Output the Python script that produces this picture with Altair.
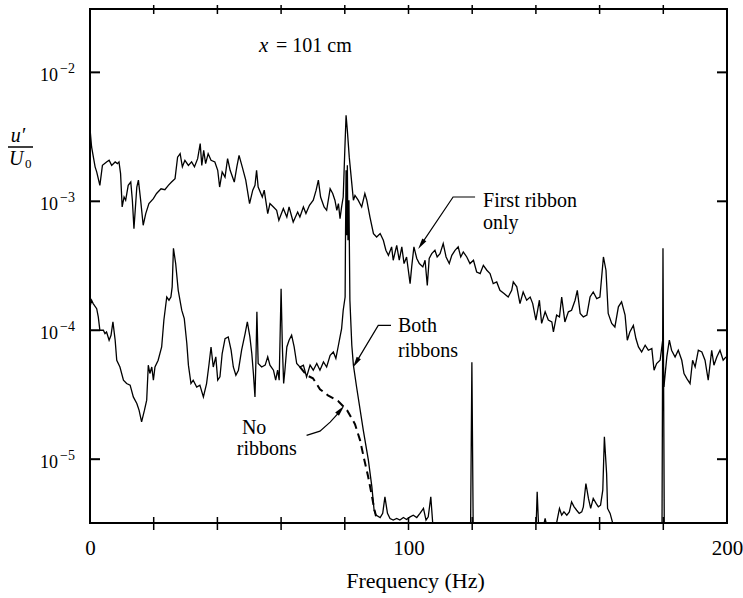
import altair as alt
import pandas as pd

# Velocity spectra u'/U0 at x = 101 cm, frequency in Hz
FLOOR = 3.2e-6  # bottom of the amplitude axis; readings below it lie on the axis

first_freq = [
    0.0, 0.5, 1.6, 2.1, 3.1, 3.9, 5.2, 6.0, 6.8, 7.9,
    8.6, 9.1, 9.6, 10.1, 10.7, 11.2, 12.0, 12.8, 13.3, 13.8,
    14.7, 15.2, 15.9, 16.7, 17.5, 18.5, 19.9, 20.9, 22.3, 23.5,
    24.6, 25.6, 26.7, 27.5, 28.3, 29.0, 29.8, 30.9, 31.9, 32.8,
    33.8, 34.6, 35.1, 35.7, 36.3, 37.1, 38.0, 39.2, 40.1, 40.7,
    41.5, 42.4, 43.2, 44.0, 45.3, 46.1, 46.8, 47.8, 48.9, 50.1,
    51.1, 51.8, 52.3, 52.8, 54.1, 54.7, 55.8, 56.5, 57.6, 58.6,
    59.3, 60.7, 61.8, 62.5, 63.8, 65.2, 65.9, 67.0, 67.8, 68.9,
    70.1, 71.0, 71.7, 72.4, 73.5, 74.3, 75.4, 76.2, 76.9, 77.5,
    78.0, 78.5, 79.0, 79.5, 80.0, 80.4, 80.8, 81.4, 82.2, 82.7,
    83.2, 84.2, 85.3, 86.3, 86.9, 87.9, 89.0, 90.0, 91.1, 92.1,
    92.9, 93.7, 94.7, 95.2, 96.3, 97.1, 97.9, 98.6, 99.4, 100.5,
    101.0, 101.7, 102.6, 103.4, 104.5, 105.2, 105.9, 106.5, 107.3, 108.3,
    109.0, 109.9, 110.9, 111.8, 112.8, 113.6, 114.6, 115.6, 116.4, 117.2,
    118.3, 119.3, 120.4, 121.4, 122.5, 123.5, 124.6, 125.6, 126.6, 127.7,
    128.7, 130.0, 131.3, 132.4, 132.9, 134.0, 135.0, 136.0, 137.1, 138.2,
    139.0, 140.0, 141.1, 141.8, 142.9, 143.9, 145.0, 145.5, 146.5, 147.4,
    148.1, 149.1, 150.2, 151.2, 152.3, 153.0, 153.9, 154.9, 156.0, 157.0,
    158.0, 159.1, 160.1, 161.2, 162.0, 162.7, 163.8, 164.8, 165.9, 166.9,
    168.0, 168.7, 169.5, 170.6, 171.4, 172.2, 173.2, 174.3, 175.3, 176.4,
    177.1, 177.9, 179.0, 179.8, 180.2, 181.1, 181.9, 182.6, 183.7, 184.7,
    185.8, 186.5, 187.4, 188.4, 189.2, 190.0, 191.0, 192.1, 193.1, 194.1,
    195.2, 195.9, 196.8, 197.8, 198.8, 199.7,
]
first_amp = [
    3.66e-3, 2.64e-3, 1.85e-3, 1.69e-3, 1.33e-3, 1.90e-3, 2.02e-3, 2.08e-3, 1.90e-3, 2.02e-3,
    1.96e-3, 2.02e-3, 1.64e-3, 9.04e-4, 1.08e-3, 1.02e-3, 1.33e-3, 1.41e-3, 1.02e-3, 6.14e-4,
    1.29e-3, 1.46e-3, 1.02e-3, 6.52e-4, 8.03e-4, 9.60e-4, 1.05e-3, 1.15e-3, 1.25e-3, 1.23e-3,
    1.33e-3, 1.41e-3, 1.50e-3, 2.20e-3, 2.34e-3, 1.85e-3, 2.08e-3, 1.90e-3, 2.02e-3, 1.85e-3,
    2.14e-3, 2.80e-3, 1.90e-3, 2.48e-3, 1.96e-3, 2.34e-3, 2.08e-3, 2.02e-3, 1.74e-3, 1.29e-3,
    1.69e-3, 1.54e-3, 2.14e-3, 1.74e-3, 1.41e-3, 1.85e-3, 2.27e-3, 1.85e-3, 1.46e-3, 9.60e-4,
    1.22e-3, 1.33e-3, 1.74e-3, 1.29e-3, 1.08e-3, 1.22e-3, 8.03e-4, 9.60e-4, 9.04e-4, 8.52e-4,
    7.12e-4, 8.78e-4, 7.55e-4, 9.04e-4, 6.91e-4, 8.26e-4, 7.55e-4, 9.04e-4, 8.03e-4, 9.31e-4,
    1.02e-3, 1.22e-3, 1.46e-3, 1.08e-3, 9.04e-4, 8.52e-4, 1.25e-3, 1.15e-3, 1.02e-3, 8.52e-4,
    9.60e-4, 7.34e-4, 9.04e-4, 1.08e-3, 2.48e-3, 4.64e-3, 3.55e-3, 2.20e-3, 1.37e-3, 1.02e-3,
    1.11e-3, 1.02e-3, 9.04e-4, 1.15e-3, 1.02e-3, 7.55e-4, 5.62e-4, 5.29e-4, 5.62e-4, 4.98e-4,
    4.17e-4, 3.81e-4, 4.43e-4, 3.49e-4, 4.56e-4, 3.49e-4, 4.43e-4, 3.29e-4, 3.70e-4, 2.30e-4,
    3.10e-4, 4.43e-4, 3.60e-4, 3.29e-4, 3.10e-4, 3.49e-4, 2.23e-4, 3.60e-4, 3.93e-4, 4.17e-4,
    3.70e-4, 3.93e-4, 4.70e-4, 3.70e-4, 3.29e-4, 3.81e-4, 4.17e-4, 4.43e-4, 3.70e-4, 4.05e-4,
    3.70e-4, 3.29e-4, 3.49e-4, 2.83e-4, 2.75e-4, 3.19e-4, 2.92e-4, 2.75e-4, 2.30e-4, 2.37e-4,
    2.04e-4, 1.93e-4, 1.81e-4, 2.04e-4, 2.37e-4, 2.17e-4, 1.61e-4, 1.98e-4, 1.71e-4, 1.81e-4,
    1.61e-4, 1.20e-4, 1.71e-4, 1.13e-4, 1.39e-4, 1.20e-4, 1.16e-4, 9.70e-5, 1.31e-4, 1.27e-4,
    1.81e-4, 1.16e-4, 1.39e-4, 1.43e-4, 1.71e-4, 2.04e-4, 1.35e-4, 1.27e-4, 1.31e-4, 1.81e-4,
    1.98e-4, 1.76e-4, 1.81e-4, 3.70e-4, 2.92e-4, 1.35e-4, 1.13e-4, 1.06e-4, 1.52e-4, 1.66e-4,
    1.31e-4, 8.37e-5, 9.70e-5, 1.09e-4, 8.62e-5, 7.42e-5, 6.79e-5, 7.65e-5, 7.00e-5, 7.21e-5,
    4.90e-5, 5.52e-5, 5.85e-5, 8.37e-5, 3.63e-5, 6.21e-5, 8.37e-5, 7.00e-5, 6.21e-5, 7.00e-5,
    5.85e-5, 4.62e-5, 4.22e-5, 3.86e-5, 5.85e-5, 5.19e-5, 7.00e-5, 6.79e-5, 5.85e-5, 4.10e-5,
    7.00e-5, 5.36e-5, 6.21e-5, 7.00e-5, 5.85e-5, 6.21e-5,
]

both_freq = [
    0.0, 0.5, 1.0, 2.1, 2.6, 3.1, 4.2, 4.7, 5.2, 6.0,
    6.6, 7.2, 7.9, 8.4, 9.4, 10.5, 11.5, 12.6, 13.6, 14.7,
    15.4, 16.2, 17.1, 17.8, 18.3, 18.8, 19.4, 19.9, 20.4, 21.4,
    22.5, 23.2, 24.1, 24.8, 25.4, 25.8, 26.2, 26.9, 27.7, 28.8,
    29.6, 30.4, 30.9, 31.7, 32.4, 33.5, 34.5, 35.6, 36.6, 37.4,
    38.0, 38.7, 39.5, 40.1, 40.8, 41.5, 42.4, 43.4, 44.3, 45.0,
    45.8, 46.6, 47.6, 48.7, 49.4, 50.2, 50.8, 51.3, 51.8, 52.1,
    52.4, 52.8, 53.9, 55.0, 55.8, 56.5, 57.6, 58.3, 58.9, 59.4,
    60.0, 60.4, 60.8, 61.2, 61.8, 62.5, 63.3, 64.1, 64.9, 65.9,
    67.0, 68.0, 69.1, 70.1, 71.2, 72.2, 73.3, 74.3, 75.4, 76.4,
    77.2, 78.0, 78.5, 79.0, 79.5, 80.1, 80.2, 80.4, 80.6, 80.8,
    81.0, 81.3, 81.6, 82.2, 82.7, 83.7, 85.8, 87.4, 88.5, 89.2,
    89.8, 91.1, 91.9, 92.6, 93.4, 94.2, 95.2, 96.3, 97.3, 98.4,
    99.4, 100.5, 101.5, 102.6, 103.6, 104.7, 105.5, 106.2, 107.0, 107.6,
    119.5, 119.9, 120.3, 140.1, 140.4, 140.8, 142.6, 142.9, 143.2, 146.5,
    147.4, 148.1, 148.8, 149.7, 150.5, 151.2, 152.0, 152.8, 153.6, 154.4,
    154.9, 155.7, 156.5, 157.2, 158.0, 158.9, 159.6, 160.3, 161.0, 161.5,
    162.2, 162.5, 163.3, 164.1, 179.6, 179.9, 180.3, 200.0,
]
both_amp = [
    1.52e-4, 1.71e-4, 1.61e-4, 1.47e-4, 1.27e-4, 1.00e-4, 1.00e-4, 9.43e-5, 9.70e-5, 8.37e-5,
    9.15e-5, 1.16e-4, 8.37e-5, 5.85e-5, 5.19e-5, 4.10e-5, 3.86e-5, 3.75e-5, 3.04e-5, 2.70e-5,
    2.40e-5, 1.95e-5, 2.40e-5, 2.87e-5, 5.36e-5, 4.62e-5, 5.19e-5, 4.10e-5, 5.19e-5, 5.85e-5,
    7.42e-5, 1.20e-4, 1.81e-4, 1.71e-4, 1.81e-4, 2.17e-4, 4.32e-4, 3.29e-4, 2.04e-4, 1.43e-4,
    1.23e-4, 7.89e-5, 5.36e-5, 3.86e-5, 4.10e-5, 3.63e-5, 3.75e-5, 3.04e-5, 3.86e-5, 5.52e-5,
    7.42e-5, 5.19e-5, 6.21e-5, 4.10e-5, 4.35e-5, 6.60e-5, 8.62e-5, 8.87e-5, 7.00e-5, 5.19e-5,
    4.48e-5, 4.90e-5, 7.00e-5, 9.43e-5, 1.16e-4, 8.87e-5, 6.60e-5, 4.62e-5, 3.04e-5, 5.85e-5,
    1.39e-4, 5.52e-5, 5.19e-5, 5.36e-5, 6.21e-5, 5.36e-5, 4.90e-5, 4.10e-5, 4.90e-5, 4.10e-5,
    2.10e-4, 7.42e-5, 3.86e-5, 4.90e-5, 7.42e-5, 8.37e-5, 9.15e-5, 7.42e-5, 5.52e-5, 5.19e-5,
    5.36e-5, 4.35e-5, 5.36e-5, 4.90e-5, 5.52e-5, 4.90e-5, 5.68e-5, 5.19e-5, 6.40e-5, 6.79e-5,
    6.04e-5, 7.65e-5, 8.87e-5, 1.03e-4, 1.43e-4, 1.81e-4, 4.56e-4, 1.74e-3, 5.45e-4, 1.90e-3,
    4.98e-4, 1.02e-3, 1.71e-4, 7.65e-5, 5.36e-5, 3.63e-5, 1.68e-5, 9.82e-6, 6.10e-6, 4.02e-6,
    3.68e-6, 3.53e-6, 3.80e-6, 5.10e-6, 3.80e-6, 3.47e-6, 3.37e-6, 3.47e-6, 3.37e-6, 3.53e-6,
    3.41e-6, 3.57e-6, 3.68e-6, 3.53e-6, 3.80e-6, 4.15e-6, 3.37e-6, 3.57e-6, 5.10e-6, FLOOR,
    FLOOR, 5.65e-5, FLOOR, FLOOR, 5.58e-6, FLOOR, FLOOR, 3.47e-6, FLOOR, FLOOR,
    4.15e-6, 3.68e-6, 3.90e-6, 3.68e-6, 3.90e-6, 4.67e-6, 4.27e-6, 4.02e-6, 3.80e-6, 3.90e-6,
    4.27e-6, 6.48e-6, 4.96e-6, 4.15e-6, 4.96e-6, 4.54e-6, 4.27e-6, 4.40e-6, 5.75e-6, 1.49e-5,
    7.74e-6, 4.15e-6, 3.80e-6, FLOOR, FLOOR, 4.32e-4, FLOOR, FLOOR,
]

none_freq = [65.9, 68.0, 70.0, 72.2, 74.7, 77.9, 80.7, 83.2, 84.8, 86.0, 87.3, 88.4, 89.2, 89.8]
none_amp = [5.19e-5, 4.48e-5, 4.24e-5, 3.49e-5, 3.13e-5, 2.82e-5, 2.40e-5, 1.87e-5,
            1.40e-5, 1.02e-5, 7.38e-6, 5.36e-6, 4.17e-6, 3.61e-6]

# Axis furniture
x_tick_values = [20, 40, 60, 80, 100, 120, 140, 160, 180]
x_label_values = [0, 100, 200]
decades = [1e-5, 1e-4, 1e-3, 1e-2]
decade_exponents = ["\u22125", "\u22124", "\u22123", "\u22122"]

# Annotation text (frequency, amplitude of the text anchor)
label_text = ["= 101 cm", "First ribbon", "only", "Both", "ribbons", "No", "ribbons"]
label_freq = [58.4, 123.4, 123.4, 96.7, 96.7, 47.7, 46.1]
label_amp = [1.43e-2, 9.06e-4, 6.07e-4, 9.70e-5, 6.21e-5, 1.58e-5, 1.07e-5]

# Leader lines to the curves
leader_group = [1, 1, 1, 2, 2, 2, 3, 3, 3, 3, 3]
leader_freq = [120.9, 114.0, 104.0, 94.5, 90.5, 83.5, 68.0, 72.2, 75.4, 77.9, 78.7]
leader_amp = [1.08e-3, 1.08e-3, 4.63e-4, 1.09e-4, 1.09e-4, 5.61e-5,
              1.53e-5, 1.65e-5, 1.94e-5, 2.27e-5, 2.41e-5]
head_freq = [104.0, 83.5, 78.7]
head_amp = [4.63e-4, 5.61e-5, 2.41e-5]
head_angle = [214, 211, 41]

FONT = "Liberation Serif, Times New Roman, DejaVu Serif, serif"
W, H = 637, 514

x_scale = alt.Scale(domain=[0, 200], nice=False, zero=False)
y_scale = alt.Scale(type="log", domain=[FLOOR, 3.1e-2], nice=False)

x_axis = alt.Axis(
    values=x_label_values, format="d", ticks=False, tickSize=0, domain=False, grid=False,
    labelFont=FONT, labelFontSize=21, labelColor="black", labelPadding=14,
    labelFlush=False, labelOverlap=False,
    title="Frequency (Hz)", titleFont=FONT, titleFontSize=22, titleFontWeight="normal",
    titleColor="black", titleX=325, titleY=64, titleBaseline="alphabetic", titleAlign="center",
)


def xenc(field="f"):
    return alt.X(f"{field}:Q", scale=x_scale, axis=x_axis)


def yenc(field="a"):
    return alt.Y(f"{field}:Q", scale=y_scale, axis=None)


def series(freq, amp):
    return pd.DataFrame({"f": freq, "a": amp, "i": range(len(freq))})


first_df = series(first_freq, first_amp)
both_df = series(both_freq, both_amp)
none_df = series(none_freq, none_amp)

first_line = alt.Chart(first_df).mark_line(color="black", strokeWidth=1.3, clip=True).encode(
    x=xenc(), y=yenc(), order="i:Q"
)
both_line = alt.Chart(both_df).mark_line(color="black", strokeWidth=1.3, clip=True).encode(
    x=xenc(), y=yenc(), order="i:Q"
)
none_line = alt.Chart(none_df).mark_line(
    color="black", strokeWidth=2, strokeDash=[8, 5], clip=True
).encode(x=xenc(), y=yenc(), order="i:Q")

# Ticks: crossing the top and bottom frame, pointing inward on the sides
xt_df = pd.DataFrame({"f": x_tick_values})
top_ticks = alt.Chart(xt_df).mark_rule(color="black", strokeWidth=1.5).encode(
    x=xenc(), y=alt.value(-4), y2=alt.value(5)
)
bottom_ticks = alt.Chart(xt_df).mark_rule(color="black", strokeWidth=1.5).encode(
    x=xenc(), y=alt.value(H - 6), y2=alt.value(H + 7)
)
dec_df = pd.DataFrame({"a": decades, "e": decade_exponents})
left_ticks = alt.Chart(dec_df).mark_rule(color="black", strokeWidth=2).encode(
    y=yenc(), x=alt.value(0), x2=alt.value(10)
)
right_ticks = alt.Chart(dec_df).mark_rule(color="black", strokeWidth=2).encode(
    y=yenc(), x=alt.value(W - 10), x2=alt.value(W)
)

# Decade labels 10^n
dec_base = alt.Chart(dec_df).mark_text(
    font=FONT, fontSize=18, align="right", baseline="alphabetic", dy=9, color="black"
).encode(y=yenc(), x=alt.value(-32), text=alt.value("10"))
dec_exp = alt.Chart(dec_df).mark_text(
    font=FONT, fontSize=14, align="left", baseline="alphabetic", dy=1, color="black"
).encode(y=yenc(), x=alt.value(-30), text="e:N")

# Axis title u'/U0 as a fraction
num_df = pd.DataFrame({"t": ["u\u2032"]})
numerator = alt.Chart(num_df).mark_text(
    font=FONT, fontSize=20, fontStyle="italic", align="center", baseline="alphabetic", color="black"
).encode(x=alt.value(-72), y=alt.value(133), text="t:N")
bar = alt.Chart(num_df).mark_rule(color="black", strokeWidth=1.5).encode(
    x=alt.value(-82), x2=alt.value(-57), y=alt.value(138)
)
den_df = pd.DataFrame({"t": ["U"]})
denominator = alt.Chart(den_df).mark_text(
    font=FONT, fontSize=20, fontStyle="italic", align="left", baseline="alphabetic", color="black"
).encode(x=alt.value(-81), y=alt.value(156), text="t:N")
sub_df = pd.DataFrame({"t": ["0"]})
subscript = alt.Chart(sub_df).mark_text(
    font=FONT, fontSize=13, align="left", baseline="alphabetic", color="black"
).encode(x=alt.value(-65), y=alt.value(159), text="t:N")

# Annotations
lab_df = pd.DataFrame({"f": label_freq, "a": label_amp, "t": label_text})
labels = alt.Chart(lab_df).mark_text(
    font=FONT, fontSize=20, align="left", baseline="alphabetic", color="black"
).encode(x=xenc(), y=yenc(), text="t:N")
xvar_df = pd.DataFrame({"f": [53.1], "a": [1.43e-2], "t": ["x"]})
xvar = alt.Chart(xvar_df).mark_text(
    font=FONT, fontSize=21, fontStyle="italic", align="left", baseline="alphabetic", color="black"
).encode(x=xenc(), y=yenc(), text="t:N")

lead_df = pd.DataFrame({"g": leader_group, "f": leader_freq, "a": leader_amp,
                        "i": range(len(leader_freq))})
leaders = alt.Chart(lead_df).mark_line(color="black", strokeWidth=1.2).encode(
    x=xenc(), y=yenc(), detail="g:N", order="i:Q"
)
head_df = pd.DataFrame({"f": head_freq, "a": head_amp, "ang": head_angle})
heads = alt.Chart(head_df).mark_point(
    shape="M0,-1L0.45,1L-0.45,1Z", filled=True, size=120, color="black", opacity=1
).encode(x=xenc(), y=yenc(), angle=alt.Angle("ang:Q", scale=None))

chart = alt.layer(
    first_line, both_line, none_line,
    top_ticks, bottom_ticks, left_ticks, right_ticks,
    dec_base, dec_exp, numerator, bar, denominator, subscript,
    labels, xvar, leaders, heads,
).properties(
    width=W, height=H,
    padding={"left": 90, "top": 9, "right": 16, "bottom": 75},
    autosize=alt.AutoSizeParams(type="none"),
    background="white",
).configure_view(stroke="black", strokeWidth=2)

chart.save("out.html", embed_options={"renderer": "svg", "actions": False})
